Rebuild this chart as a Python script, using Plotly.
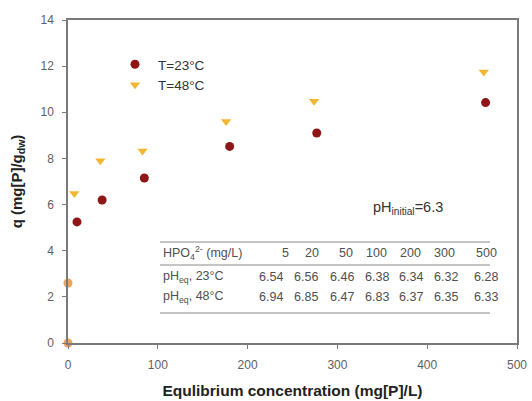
import plotly.graph_objects as go

# Data
x_23 = [10, 38, 85, 180, 277, 465]
q_23 = [5.25, 6.2, 7.15, 8.52, 9.1, 10.42]
x_48 = [7, 36, 83, 176, 274, 463]
q_48 = [6.48, 7.9, 8.32, 9.6, 10.48, 11.75]
x_0 = [0, 0]
q_0 = [0, 2.6]

hpo4_conc = ["5", "20", "50", "100", "200", "300", "500"]
ph_eq_23 = ["6.54", "6.56", "6.46", "6.38", "6.34", "6.32", "6.28"]
ph_eq_48 = ["6.94", "6.85", "6.47", "6.83", "6.37", "6.35", "6.33"]

W, H = 532, 401
L, R, T, B = 68, 15, 20, 58
pw, ph = W - L - R, H - T - B

def px(xp):
    return (xp - L) / pw

def py(yp):
    return (H - B - yp) / ph

fig = go.Figure()
fig.add_trace(go.Scatter(x=x_0, y=q_0, mode="markers", showlegend=False,
                         marker=dict(symbol="circle", size=9, color="#EFA35A"),
                         cliponaxis=False))
fig.add_trace(go.Scatter(x=x_23, y=q_23, mode="markers", name="T=23°C",
                         marker=dict(symbol="circle", size=9, color="#8E1616"),
                         cliponaxis=False))
fig.add_trace(go.Scatter(x=x_48, y=q_48, mode="markers", name="T=48°C",
                         marker=dict(symbol="triangle-down", size=9, color="#F2B632"),
                         cliponaxis=False))

font_fam = "Liberation Sans, Arial, sans-serif"
axis_common = dict(showline=True, linecolor="#7a7a7a", linewidth=1.5, mirror=True,
                   ticks="outside", ticklen=4, tickcolor="#7a7a7a",
                   showgrid=False, zeroline=False, automargin=False,
                   tickfont=dict(family=font_fam, size=12, color="#606060"))

fig.update_layout(
    width=W, height=H,
    margin=dict(l=L, r=R, t=T, b=B),
    plot_bgcolor="white", paper_bgcolor="white",
    font=dict(family=font_fam, color="#333333"),
    xaxis=dict(range=[0, 500], dtick=100, **axis_common, ticklabelstandoff=6,
               title=dict(text="<b>Equlibrium concentration (mg[P]/L)</b>",
                          font=dict(size=15.5, color="#222222"), standoff=14)),
    yaxis=dict(range=[0, 14], dtick=2, **axis_common, ticklabelstandoff=6,
               title=dict(text="<b>q (mg[P]/g<sub>dw</sub>)</b>",
                          font=dict(size=15, color="#222222"), standoff=14)),
    legend=dict(x=px(112), y=py(49), xanchor="left", yanchor="top",
                bgcolor="rgba(0,0,0,0)", font=dict(size=13.5, color="#333333"),
                itemwidth=36),
)

# pH initial annotation
fig.add_annotation(xref="paper", yref="paper", x=px(371), y=py(208),
                   xanchor="left", yanchor="middle", showarrow=False,
                   text="pH<sub>initial</sub>=6.3",
                   font=dict(size=14.5, color="#333333"))

# Table lines
for yl in [242, 265, 313]:
    fig.add_shape(type="line", xref="paper", yref="paper",
                  x0=px(160), x1=px(490), y0=py(yl), y1=py(yl),
                  line=dict(color="#8a8a8a", width=1))

tfont = dict(size=12.5, color="#505050")
row_y = [253, 277, 297]
row_labels = ["HPO<sub>4</sub><sup>2-</sup> (mg/L)",
              "pH<sub>eq</sub>, 23°C", "pH<sub>eq</sub>, 48°C"]
for lab, yy in zip(row_labels, row_y):
    fig.add_annotation(xref="paper", yref="paper", x=px(161), y=py(yy),
                       xanchor="left", yanchor="middle", showarrow=False,
                       text=lab, font=tfont)

head_x = [285, 312, 346, 376, 410, 444, 486]
val_x = [271, 306, 342, 377, 411, 446, 486]
for i in range(len(hpo4_conc)):
    fig.add_annotation(xref="paper", yref="paper", x=px(head_x[i]), y=py(row_y[0]),
                       xanchor="center", yanchor="middle", showarrow=False,
                       text=hpo4_conc[i], font=tfont)
    fig.add_annotation(xref="paper", yref="paper", x=px(val_x[i]), y=py(row_y[1]),
                       xanchor="center", yanchor="middle", showarrow=False,
                       text=ph_eq_23[i], font=tfont)
    fig.add_annotation(xref="paper", yref="paper", x=px(val_x[i]), y=py(row_y[2]),
                       xanchor="center", yanchor="middle", showarrow=False,
                       text=ph_eq_48[i], font=tfont)

fig.write_html("out.html", config={"displayModeBar": False},
               post_script="document.body.style.margin='0';")
